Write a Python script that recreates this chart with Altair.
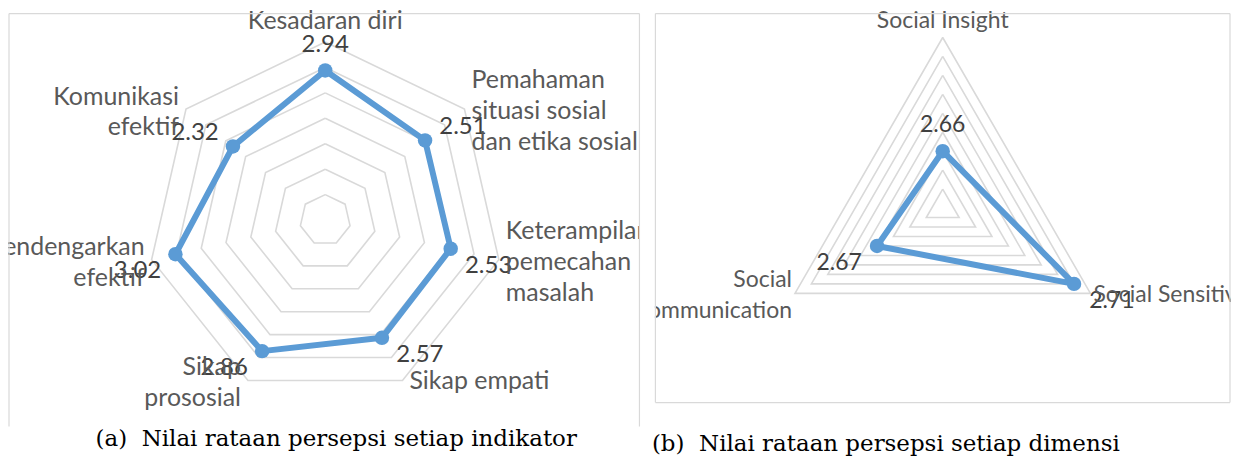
import altair as alt
import numpy as np
import pandas as pd

# ---------------- data ----------------
cats_a = ["Kesadaran diri", "Pemahaman situasi sosial dan etika sosial",
          "Keterampilan pemecahan masalah", "Sikap empati", "Sikap prososial",
          "Mendengarkan efektif", "Komunikasi efektif"]
lines_a = [["Kesadaran diri"], ["Pemahaman", "situasi sosial", "dan etika sosial"],
           ["Keterampilan", "pemecahan", "masalah"], ["Sikap empati"],
           ["Sikap", "prososial"], ["Mendengarkan", "efektif"], ["Komunikasi", "efektif"]]
vals_a = [2.94, 2.51, 2.53, 2.57, 2.86, 3.02, 2.32]
ticks_a = [0.5, 1.0, 1.5, 2.0, 2.5, 3.0, 3.5]

cats_b = ["Social Insight", "Social Sensitivity", "Social Communication"]
lines_b = [["Social Insight"], ["Social Sensitivity"], ["Social", "Communication"]]
vals_b = [2.66, 2.71, 2.67]
ticks_b = [2.64, 2.65, 2.66, 2.67, 2.68, 2.69, 2.70, 2.71, 2.72]

captions = ["(a)\u00a0\u00a0Nilai rataan persepsi setiap indikator",
            "(b)\u00a0\u00a0Nilai rataan persepsi setiap dimensi"]

# ---------------- layout ----------------
X0, X1 = 8, 1234
Y0, Y1 = 8, 459
PANEL_A = dict(name="a", cx=326.0, cy=220.0, R=178.5, vmin=0.0, vmax=3.5,
               pad=7.0, top=21.0, fs_cat=25, fs_dl=24)
PANEL_B = dict(name="b", cx=945.0, cy=208.0, R=171.0, vmin=2.63, vmax=2.72,
               pad=3.0, top=17.0, fs_cat=23, fs_dl=23)
NUDGE_A = [(0, 0), (0, 2), (0, 2), (0, 1), (0, 2), (0, 3), (0, 3)]
NUDGE_B = [(0, 0), (0, 2), (0, 2)]
DL_DX, DL_UP, DL_DOWN, DL_TOP = 38.0, -13.0, 17.0, -26.0
LH = 31

BLUE = "#5B9BD5"
GRID = "#D9D9D9"
FONT = "Lato"


def rad(p, v):
    return (v - p["vmin"]) / (p["vmax"] - p["vmin"]) * p["R"]


def build(p, lines, vals, ticks, nudges):
    n = len(vals)
    ang = 2 * np.pi * np.arange(n) / n
    s, c = np.sin(ang), np.cos(ang)
    grid, series, dl, cl = [], [], [], []
    for k, t in enumerate(ticks):
        r = rad(p, t)
        for j in range(n + 1):
            i = j % n
            grid.append(dict(ring=f"{p['name']}{k}", ord=j,
                             x=p["cx"] + r * s[i], y=p["cy"] - r * c[i]))
    for j in range(n + 1):
        i = j % n
        r = rad(p, vals[i])
        series.append(dict(panel=p["name"], ord=j, pt=j < n,
                           x=p["cx"] + r * s[i], y=p["cy"] - r * c[i]))
    for i in range(n):
        r = rad(p, vals[i])
        px, py = p["cx"] + r * s[i], p["cy"] - r * c[i]
        if abs(s[i]) < 0.1:
            lx, ly = px, py + DL_TOP
        else:
            lx = px + DL_DX * np.sign(s[i])
            ly = py + (DL_UP if c[i] > 0.1 else DL_DOWN)
        dl.append(dict(x=lx, y=ly, txt=f"{vals[i]:.2f}", fs=p["fs_dl"]))
        vx, vy = p["cx"] + p["R"] * s[i], p["cy"] - p["R"] * c[i]
        if abs(s[i]) < 0.1:
            al, ax, ay = "center", vx, vy - p["top"]
        elif s[i] > 0:
            al, ax, ay = "left", vx + p["pad"], vy
        else:
            al, ax, ay = "right", vx - p["pad"], vy
        ay -= (len(lines[i]) - 1) * LH / 2.0   # centre the block of lines
        cl.append(dict(panel=p["name"], x=ax + nudges[i][0], y=ay + nudges[i][1],
                       al=al, lines=lines[i], fs=p["fs_cat"]))
    return grid, series, dl, cl


ga, sa, da, ca = build(PANEL_A, lines_a, vals_a, ticks_a, NUDGE_A)
gb, sb, db, cb = build(PANEL_B, lines_b, vals_b, ticks_b, NUDGE_B)
grid_df = pd.DataFrame(ga + gb)
series_df = pd.DataFrame(sa + sb)
dl_df = pd.DataFrame(da + db)
cl_df = pd.DataFrame(ca + cb)

frames_df = pd.DataFrame([
    dict(x=9, y=13, x2=641, y2=13), dict(x=9, y=13, x2=9, y2=427),
    dict(x=641, y=13, x2=641, y2=427),
    dict(x=657, y=13, x2=1233, y2=13), dict(x=657, y=403, x2=1233, y2=403),
    dict(x=657, y=13, x2=657, y2=403), dict(x=1233, y=13, x2=1233, y2=403),
])
mask_a_df = pd.DataFrame([dict(x=641.5, x2=656.5, y=8, y2=430)])
mask_b_df = pd.DataFrame([dict(x=600, x2=656.5, y=296, y2=328)])
cap_df = pd.DataFrame([dict(x=337, y=447, txt=captions[0]),
                       dict(x=888, y=452, txt=captions[1])])

xs = alt.Scale(domain=[X0, X1], nice=False, zero=False)
ys = alt.Scale(domain=[Y0, Y1], nice=False, zero=False, reverse=True)
X = lambda f="x": alt.X(f"{f}:Q", scale=xs, axis=None)
Y = lambda f="y": alt.Y(f"{f}:Q", scale=ys, axis=None)

grid_l = alt.Chart(grid_df).mark_line(color=GRID, strokeWidth=1.6).encode(
    x=X(), y=Y(), detail="ring:N", order="ord:Q")
ser_l = alt.Chart(series_df).mark_line(color=BLUE, strokeWidth=6, strokeJoin="round").encode(
    x=X(), y=Y(), detail="panel:N", order="ord:Q")
pt_l = alt.Chart(series_df).transform_filter("datum.pt").mark_circle(
    color=BLUE, size=210, opacity=1).encode(x=X(), y=Y())
dl_l = alt.Chart(dl_df).mark_text(font=FONT, color="#404040", baseline="middle").encode(
    x=X(), y=Y(), text="txt:N", size=alt.Size("fs:Q", scale=None, legend=None))


def cat_layers(panel):
    out = []
    for al in ["left", "center", "right"]:
        out.append(
            alt.Chart(cl_df).transform_filter(
                f"datum.al == '{al}' && datum.panel == '{panel}'").mark_text(
                font=FONT, color="#595959", align=al, baseline="middle",
                lineHeight=LH).encode(x=X(), y=Y(), text="lines:N",
                                      size=alt.Size("fs:Q", scale=None, legend=None)))
    return out


mask_a = alt.Chart(mask_a_df).mark_rect(color="white").encode(
    x=X(), x2="x2:Q", y=Y(), y2="y2:Q")
mask_b = alt.Chart(mask_b_df).mark_rect(color="white").encode(
    x=X(), x2="x2:Q", y=Y(), y2="y2:Q")
frame_l = alt.Chart(frames_df).mark_rule(color=GRID, strokeWidth=1.2).encode(
    x=X(), x2="x2:Q", y=Y(), y2="y2:Q")
cap_l = alt.Chart(cap_df).mark_text(font="DejaVu Serif", fontSize=23, color="#000000",
                                    align="center", baseline="alphabetic").encode(
    x=X(), y=Y(), text="txt:N")

chart = alt.layer(grid_l, ser_l, pt_l, dl_l, *cat_layers("a"), mask_a,
                  *cat_layers("b"), mask_b, frame_l, cap_l).properties(
    width=X1 - X0, height=Y1 - Y0, padding=0,
    autosize=alt.AutoSizeParams(type="none"),
    background="white",
).configure_view(strokeWidth=0)

chart.save("out.html", embed_options={"renderer": "svg", "actions": False})
